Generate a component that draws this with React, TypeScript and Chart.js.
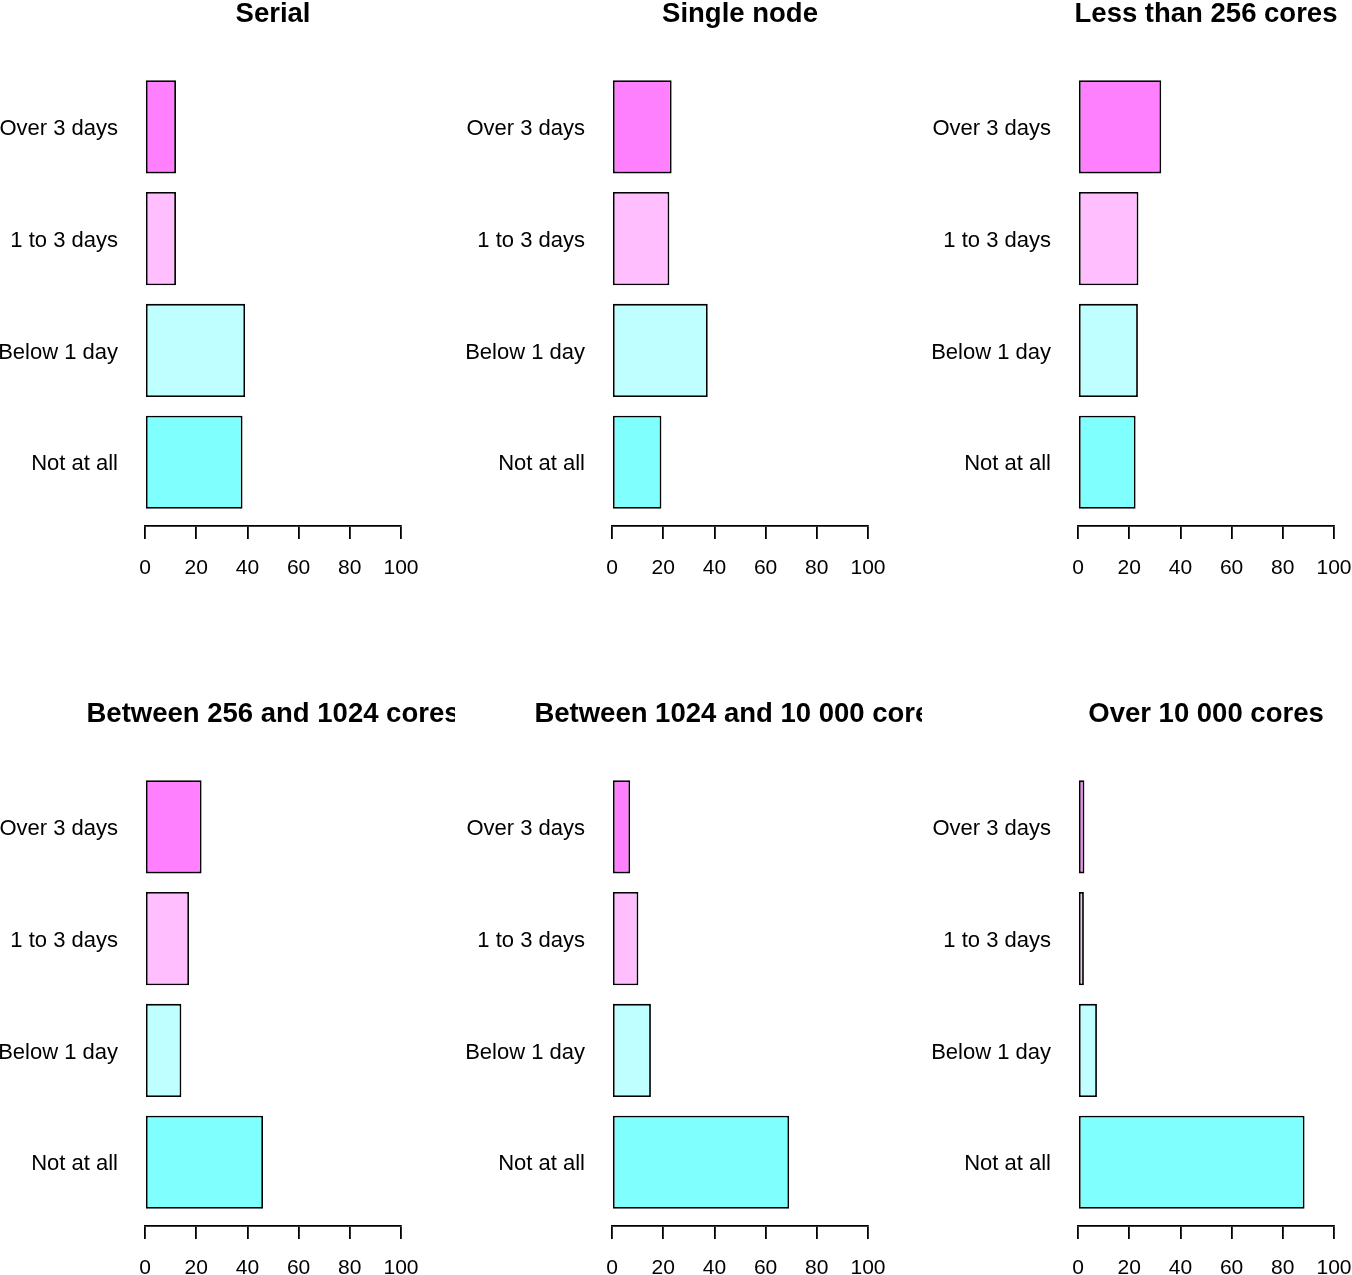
import React, { useEffect, useRef } from "react";
import { Chart, registerables } from "chart.js";

Chart.register(...registerables);

// ---------- data ----------
const CATEGORIES = ["Over 3 days", "1 to 3 days", "Below 1 day", "Not at all"];
const COLORS = ["#FF80FF", "#FFBFFF", "#BFFFFF", "#80FFFF"];
const X_TICKS = [0, 20, 40, 60, 80, 100];

const PANEL_TITLES = [
  "Serial",
  "Single node",
  "Less than 256 cores",
  "Between 256 and 1024 cores",
  "Between 1024 and 10 000 cores",
  "Over 10 000 cores",
];

// values in CATEGORIES order (percent)
const SERIAL = [12.1, 12.1, 39.1, 38.1];
const SINGLE_NODE = [23.3, 22.4, 37.4, 19.3];
const LESS_THAN_256 = [32.5, 23.6, 23.4, 22.5];
const BETWEEN_256_1024 = [22.1, 17.2, 14.2, 46.1];
const BETWEEN_1024_10000 = [7.1, 10.3, 15.2, 69.2];
const OVER_10000 = [2.5, 2.3, 7.4, 88.5];

const PANEL_VALUES = [SERIAL, SINGLE_NODE, LESS_THAN_256, BETWEEN_256_1024, BETWEEN_1024_10000, OVER_10000];

// ---------- layout ----------
const FONT = '"Liberation Sans", Arial, Helvetica, sans-serif';
const CANVAS_W = 467;
const CANVAS_H = 700;
const COL_LEFT = [-12, 455, 921];
const ROW_TOP = [-40, 660];
const AREA_LEFT = 157;
const AREA_RIGHT_PAD = 54;
const AREA_TOP = 103.1;
const AXIS_H = 134;
const TITLE_BASELINE = 61.7;

const titlePlugin = {
  id: "panelTitle",
  afterDraw(chart: any) {
    const t = chart.options.plugins.panelTitle?.text;
    if (!t) return;
    const { ctx, chartArea } = chart;
    ctx.save();
    ctx.font = `bold 27.5px ${FONT}`;
    ctx.fillStyle = "#000";
    ctx.textAlign = "center";
    ctx.textBaseline = "alphabetic";
    ctx.fillText(t, (chartArea.left + chartArea.right) / 2, TITLE_BASELINE);
    ctx.restore();
  },
};

function Panel({ title, values, left, top }: { title: string; values: number[]; left: number; top: number }) {
  const ref = useRef<HTMLCanvasElement | null>(null);
  useEffect(() => {
    if (!ref.current) return;
    const n = CATEGORIES.length;
    const positions = CATEGORIES.map((_, i) => n - i);
    const chart = new Chart(ref.current, {
      type: "bar",
      data: {
        datasets: [
          {
            data: values.map((v, i) => ({ x: v, y: positions[i] })),
            backgroundColor: COLORS,
            borderColor: "#000",
            borderWidth: 1.8,
            borderSkipped: false,
            barPercentage: 0.8333,
            categoryPercentage: 1,
          } as any,
        ],
      },
      options: {
        indexAxis: "y",
        responsive: false,
        maintainAspectRatio: false,
        animation: false,
        events: [],
        layout: { padding: { top: AREA_TOP, right: AREA_RIGHT_PAD, bottom: 0, left: 0 } },
        plugins: {
          legend: { display: false },
          tooltip: { enabled: false },
          title: { display: false },
          panelTitle: { text: title },
        } as any,
        scales: {
          x: {
            type: "linear",
            position: "bottom",
            min: 0,
            max: 100,
            afterBuildTicks: (s: any) => {
              s.ticks = X_TICKS.map((v) => ({ value: v }));
            },
            afterFit: (s: any) => {
              s.height = AXIS_H;
            },
            ticks: {
              color: "#000",
              font: { family: FONT, size: 21 },
              padding: 17,
              maxRotation: 0,
              minRotation: 0,
              autoSkip: false,
            },
            grid: {
              drawOnChartArea: false,
              drawTicks: true,
              tickLength: 13,
              color: "#000",
              lineWidth: 1.8,
            },
            border: { display: true, color: "#000", width: 1.8 },
          },
          y: {
            type: "linear",
            offset: false,
            min: 0.43,
            max: 4.57,
            afterBuildTicks: (s: any) => {
              s.ticks = positions.map((v) => ({ value: v }));
            },
            afterFit: (s: any) => {
              s.width = AREA_LEFT;
            },
            ticks: {
              color: "#000",
              font: { family: FONT, size: 22 },
              padding: 27,
              labelOffset: 2,
              autoSkip: false,
              callback: (v: any) => CATEGORIES[n - Number(v)],
            },
            grid: { display: false, drawTicks: false, offset: false },
            border: { display: false },
          },
        },
      } as any,
      plugins: [titlePlugin],
    });
    return () => chart.destroy();
  }, [title, values]);
  return (
    <canvas
      ref={ref}
      width={CANVAS_W}
      height={CANVAS_H}
      style={{ position: "absolute", left, top, width: CANVAS_W, height: CANVAS_H, display: "block" }}
    />
  );
}

export default function App() {
  return (
    <div
      style={{
        position: "absolute",
        left: 0,
        top: 0,
        width: 1352,
        height: 1275,
        overflow: "hidden",
        background: "#fff",
      }}
    >
      {PANEL_TITLES.map((t, i) => (
        <Panel key={t} title={t} values={PANEL_VALUES[i]} left={COL_LEFT[i % 3]} top={ROW_TOP[Math.floor(i / 3)]} />
      ))}
    </div>
  );
}
